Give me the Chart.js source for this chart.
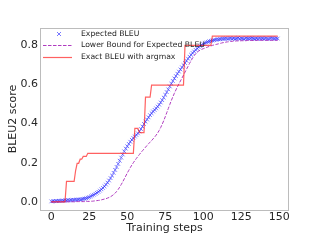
<!DOCTYPE html>
<html>
<head>
<meta charset="utf-8">
<script src="https://cdn.jsdelivr.net/npm/chart.js@4/dist/chart.umd.min.js"></script>
<style>
  html, body { margin: 0; padding: 0; background: #fff; }
  #wrap { width: 320px; height: 240px; }
</style>
</head>
<body>
<div id="wrap"><canvas id="bleuChart" width="320" height="240"></canvas></div>
<script>
// training steps 0..149
const steps = Array.from({ length: 150 }, (_, i) => i);

const expectedBleu = [
  0.002, 0.003, 0.003, 0.004, 0.004, 0.005, 0.005, 0.006, 0.006, 0.007,
  0.007, 0.008, 0.008, 0.009, 0.009, 0.010, 0.010, 0.011, 0.012, 0.012,
  0.013, 0.015, 0.016, 0.018, 0.021, 0.024, 0.028, 0.032, 0.036, 0.041,
  0.046, 0.051, 0.057, 0.064, 0.071, 0.079, 0.088, 0.098, 0.109, 0.121,
  0.134, 0.148, 0.163, 0.178, 0.194, 0.210, 0.226, 0.242, 0.258, 0.272,
  0.284, 0.296, 0.307, 0.317, 0.326, 0.334, 0.342, 0.350, 0.360, 0.372,
  0.385, 0.398, 0.410, 0.421, 0.432, 0.443, 0.453, 0.462, 0.470, 0.478,
  0.487, 0.497, 0.508, 0.520, 0.533, 0.547, 0.561, 0.575, 0.590, 0.604,
  0.618, 0.631, 0.643, 0.655, 0.666, 0.677, 0.688, 0.699, 0.710, 0.721,
  0.732, 0.742, 0.752, 0.761, 0.769, 0.777, 0.784, 0.791, 0.797, 0.802,
  0.807, 0.811, 0.815, 0.818, 0.821, 0.823, 0.825, 0.827, 0.829, 0.830,
  0.831, 0.832, 0.833, 0.834, 0.834, 0.836, 0.833, 0.835, 0.837, 0.834,
  0.836, 0.833, 0.835, 0.838, 0.834, 0.836, 0.835, 0.833, 0.837, 0.835,
  0.834, 0.836, 0.838, 0.835, 0.833, 0.836, 0.834, 0.837, 0.835, 0.836,
  0.834, 0.837, 0.835, 0.833, 0.836, 0.838, 0.835, 0.834, 0.836, 0.835
];

const lowerBound = [
  0.000, 0.000, 0.000, 0.000, 0.000, 0.000, 0.000, 0.000, 0.000, 0.000,
  0.000, 0.000, 0.000, 0.000, 0.000, 0.000, 0.001, 0.001, 0.001, 0.001,
  0.001, 0.001, 0.001, 0.002, 0.002, 0.002, 0.003, 0.003, 0.004, 0.005,
  0.006, 0.007, 0.008, 0.010, 0.012, 0.014, 0.016, 0.019, 0.022, 0.026,
  0.031, 0.037, 0.044, 0.053, 0.063, 0.075, 0.088, 0.102, 0.117, 0.132,
  0.147, 0.161, 0.175, 0.188, 0.200, 0.211, 0.222, 0.232, 0.242, 0.252,
  0.261, 0.270, 0.279, 0.288, 0.297, 0.305, 0.313, 0.322, 0.331, 0.341,
  0.352, 0.365, 0.380, 0.397, 0.415, 0.435, 0.456, 0.477, 0.498, 0.518,
  0.537, 0.555, 0.572, 0.588, 0.603, 0.618, 0.633, 0.648, 0.663, 0.678,
  0.693, 0.708, 0.722, 0.735, 0.747, 0.757, 0.765, 0.771, 0.776, 0.780,
  0.783, 0.786, 0.789, 0.792, 0.795, 0.797, 0.800, 0.802, 0.804, 0.806,
  0.808, 0.810, 0.812, 0.814, 0.815, 0.817, 0.818, 0.819, 0.820, 0.821,
  0.822, 0.822, 0.823, 0.823, 0.823, 0.824, 0.824, 0.824, 0.824, 0.825,
  0.825, 0.825, 0.825, 0.825, 0.825, 0.826, 0.826, 0.826, 0.826, 0.826,
  0.826, 0.826, 0.826, 0.826, 0.826, 0.826, 0.826, 0.826, 0.826, 0.826
];

const exactBleu = [
  0, 0, 0, 0, 0, 0, 0, 0, 0, 0,
  0.104, 0.104, 0.104, 0.104, 0.104, 0.104, 0.160, 0.197, 0.197, 0.218,
  0.218, 0.232, 0.232, 0.232, 0.248, 0.248, 0.248, 0.248, 0.248, 0.248,
  0.248, 0.248, 0.248, 0.248, 0.248, 0.248, 0.248, 0.248, 0.248, 0.248,
  0.248, 0.248, 0.248, 0.248, 0.248, 0.248, 0.248, 0.248, 0.248, 0.248,
  0.248, 0.248, 0.248, 0.248, 0.248, 0.376, 0.376, 0.376, 0.354, 0.354,
  0.354, 0.354, 0.535, 0.535, 0.535, 0.535, 0.597, 0.597, 0.597, 0.597,
  0.597, 0.597, 0.597, 0.597, 0.597, 0.597, 0.597, 0.597, 0.597, 0.597,
  0.597, 0.597, 0.597, 0.597, 0.597, 0.597, 0.597, 0.597, 0.800, 0.800,
  0.800, 0.800, 0.800, 0.800, 0.800, 0.800, 0.800, 0.800, 0.800, 0.800,
  0.800, 0.800, 0.800, 0.800, 0.800, 0.800, 0.847, 0.847, 0.847, 0.847,
  0.847, 0.847, 0.847, 0.847, 0.847, 0.847, 0.847, 0.847, 0.847, 0.847,
  0.847, 0.847, 0.847, 0.847, 0.847, 0.847, 0.847, 0.847, 0.847, 0.847,
  0.847, 0.847, 0.847, 0.847, 0.847, 0.847, 0.847, 0.847, 0.847, 0.847,
  0.847, 0.847, 0.847, 0.847, 0.847, 0.847, 0.847, 0.847, 0.847, 0.847
];

const xTicks = [0, 25, 50, 75, 100, 125, 150];
const yTicks = [0.0, 0.2, 0.4, 0.6, 0.8];

const textColor = '#262626';
const font = 'DejaVu Sans';

const toPoints = arr => arr.map((v, i) => ({ x: steps[i], y: v }));

// gray box round the plot area
const framePlugin = {
  id: 'frame',
  beforeDatasetsDraw(chart) {
    const { ctx, chartArea: a } = chart;
    ctx.save();
    ctx.strokeStyle = '#bcbcbc';
    ctx.lineWidth = 1;
    ctx.strokeRect(a.left + 0.5, a.top + 0.5, a.right - a.left - 1, a.bottom - a.top);
    ctx.restore();
  }
};

// matplotlib-like legend inside the top left corner
const legendPlugin = {
  id: 'innerLegend',
  afterDraw(chart) {
    const ctx = chart.ctx;
    const rows = [34, 45.5, 57.5];
    const x0 = 43, x1 = 72, tx = 81;
    ctx.save();
    chart.data.datasets.forEach((ds, i) => {
      const y = rows[i];
      ctx.strokeStyle = ds.borderColor;
      ctx.lineWidth = ds.borderWidth;
      if (ds.showLine === false) {
        const r = 2;
        ctx.beginPath();
        ctx.moveTo(59 - r, y - r); ctx.lineTo(59 + r, y + r);
        ctx.moveTo(59 - r, y + r); ctx.lineTo(59 + r, y - r);
        ctx.stroke();
      } else {
        ctx.setLineDash(ds.borderDash || []);
        ctx.beginPath();
        ctx.moveTo(x0, y); ctx.lineTo(x1, y);
        ctx.stroke();
        ctx.setLineDash([]);
      }
      ctx.fillStyle = textColor;
      ctx.font = '7.7px "' + font + '"';
      ctx.textBaseline = 'middle';
      ctx.fillText(ds.label, tx, y);
    });
    ctx.restore();
  }
};

const ctxBleu = document.getElementById('bleuChart').getContext('2d');
const bleuChart = new Chart(ctxBleu, {
  type: 'line',
  data: {
    datasets: [{
      label: 'Expected BLEU',
      data: toPoints(expectedBleu),
      showLine: false,
      pointStyle: 'crossRot',
      pointRadius: 2.6,
      borderColor: 'rgba(30,30,255,0.6)',
      borderWidth: 1,
      order: 2
    }, {
      label: 'Lower Bound for Expected BLEU',
      data: toPoints(lowerBound),
      borderColor: '#b03cc0',
      borderWidth: 1,
      borderDash: [3.5, 1.5],
      pointRadius: 0,
      order: 1
    }, {
      label: 'Exact BLEU with argmax',
      data: toPoints(exactBleu),
      borderColor: 'rgba(255,30,30,0.7)',
      borderWidth: 1.2,
      pointRadius: 0,
      order: 0
    }]
  },
  options: {
    responsive: false,
    animation: false,
    layout: { padding: { left: 0, top: 28, right: 31, bottom: 0 } },
    plugins: { legend: { display: false }, tooltip: { enabled: false } },
    scales: {
      x: {
        type: 'linear',
        min: -7.45,
        max: 156.45,
        grid: { display: false, drawTicks: false },
        border: { display: false },
        afterBuildTicks: s => { s.ticks = xTicks.map(v => ({ value: v })); },
        afterFit: s => { s.height = 30; },
        ticks: { autoSkip: false, maxRotation: 0, padding: 1, color: textColor, font: { family: font, size: 11 } },
        title: { display: true, text: 'Training steps', color: textColor, font: { family: font, size: 11 }, padding: { top: 0, bottom: 5 } }
      },
      y: {
        min: -0.042,
        max: 0.889,
        grid: { display: false, drawTicks: false },
        border: { display: false },
        afterBuildTicks: s => { s.ticks = yTicks.map(v => ({ value: v })); },
        afterFit: s => { s.width = 40; },
        ticks: { autoSkip: false, padding: 2, color: textColor, font: { family: font, size: 11 }, callback: v => v.toFixed(1) },
        title: { display: true, text: 'BLEU2 score', color: textColor, font: { family: font, size: 11 }, padding: { top: 7, bottom: 0 } }
      }
    }
  },
  plugins: [framePlugin, legendPlugin]
});
</script>
</body>
</html>
